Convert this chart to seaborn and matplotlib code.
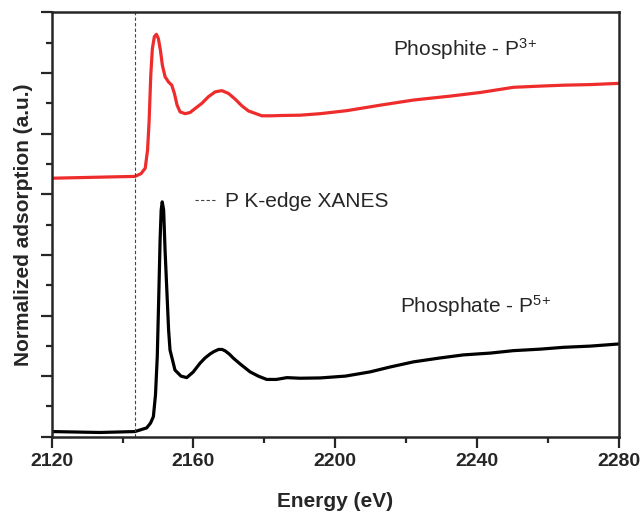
import matplotlib
matplotlib.use("Agg")
import matplotlib.pyplot as plt
from matplotlib.ticker import MultipleLocator
import seaborn as sns
import pandas as pd

# energy (eV) / normalized adsorption (a.u.)
phosphite_energy = [2120, 2139.3, 2143.5, 2145.2, 2146.4, 2147.06, 2147.49, 2147.97,
                    2148.42, 2148.98, 2149.55, 2150.11, 2150.68, 2151.24, 2152.01, 2152.94,
                    2153.90, 2154.63, 2155.40, 2156.24, 2157.66, 2159.07, 2160.48, 2162.37,
                    2164.24, 2166.13, 2168.02, 2169.89, 2171.78, 2173.67, 2175.54, 2177.43,
                    2179.32, 2182.15, 2184.5, 2190.1, 2195.8, 2203.3, 2212.7, 2222.1,
                    2232.5, 2241.0, 2250.3, 2257.9, 2264.4, 2272.0, 2280]
phosphite_abs = [8.53, 8.58, 8.59, 8.68, 8.86, 9.46, 10.39, 11.93,
                 12.81, 13.20, 13.28, 13.14, 12.76, 12.26, 11.88, 11.71,
                 11.60, 11.33, 10.94, 10.72, 10.66, 10.70, 10.83, 11.00,
                 11.22, 11.38, 11.42, 11.33, 11.14, 10.92, 10.75, 10.67,
                 10.59, 10.59, 10.60, 10.61, 10.66, 10.76, 10.94, 11.11,
                 11.24, 11.36, 11.53, 11.57, 11.60, 11.62, 11.66]

phosphate_energy = [2120, 2133.6, 2143.5, 2146.8, 2147.9, 2148.7, 2149.3, 2149.8,
                    2150.2, 2150.6, 2150.9, 2151.2, 2151.6, 2152.0, 2152.5, 2153.0,
                    2153.4, 2154.8, 2156.5, 2158.1, 2159.9, 2161.9, 2163.3, 2164.7,
                    2165.8, 2167.1, 2168.1, 2169.0, 2170.1, 2171.3, 2173.2, 2176.0,
                    2178.3, 2180.7, 2183.4, 2186.4, 2190.1, 2195.8, 2202.9, 2209.9,
                    2215.5, 2222.1, 2229.7, 2236.2, 2243.8, 2250.3, 2257.9, 2264.4,
                    2272.0, 2280]
phosphate_abs = [0.17, 0.14, 0.17, 0.29, 0.45, 0.66, 1.38, 2.64,
                 4.51, 6.49, 7.48, 7.75, 7.48, 6.16, 4.84, 3.52,
                 2.86, 2.20, 2.00, 1.95, 2.13, 2.43, 2.60, 2.73,
                 2.81, 2.88, 2.88, 2.83, 2.73, 2.59, 2.40, 2.14,
                 2.00, 1.89, 1.89, 1.95, 1.93, 1.94, 2.00, 2.14,
                 2.30, 2.47, 2.60, 2.70, 2.76, 2.84, 2.89, 2.95,
                 2.99, 3.06]

edge_energy = 2143.5
x_ticks = [2120, 2160, 2200, 2240, 2280]

sns.set_style("ticks")
plt.rcParams["font.family"] = ["Liberation Sans", "DejaVu Sans"]
plt.rcParams["mathtext.fontset"] = "custom"
plt.rcParams["mathtext.rm"] = "Liberation Sans"
plt.rcParams["mathtext.it"] = "Liberation Sans:italic"
plt.rcParams["mathtext.default"] = "regular"

phosphite = pd.DataFrame({"energy": phosphite_energy, "abs": phosphite_abs})
phosphate = pd.DataFrame({"energy": phosphate_energy, "abs": phosphate_abs})

fig = plt.figure(figsize=(6.42, 5.13), dpi=100)
ax = fig.add_axes([0.0805, 0.1487, 0.883, 0.827])

line_kw = dict(lw=2.3, solid_joinstyle="round", solid_capstyle="round")
sns.lineplot(x="energy", y="abs", data=phosphite, color="#ee2c2c", ax=ax, **line_kw)
sns.lineplot(x="energy", y="abs", data=phosphate, color="black", ax=ax, **line_kw)
ax.axvline(edge_energy, ls=(0, (3, 2)), color="#444444", lw=0.8, label="P K-edge XANES")

ax.text(2216.4, 12.56, r"Phosphite - P$^{3\!+}$", fontsize=15, va="baseline")
ax.text(2218.2, 4.09, r"Phosphate - P$^{5\!+}$", fontsize=15, va="baseline")

ax.legend(loc="center left", bbox_to_anchor=(0.253, 0.554), frameon=False,
          fontsize=15, handlelength=1.06, handletextpad=0.38, borderpad=0,
          borderaxespad=0)

ax.set_xlim(2120, 2280)
ax.set_ylim(0, 14)
ax.set_xticks(x_ticks)
ax.xaxis.set_minor_locator(MultipleLocator(20))
ax.yaxis.set_major_locator(MultipleLocator(2))
ax.yaxis.set_minor_locator(MultipleLocator(1))
ax.set_yticklabels([])

ax.set_xlabel("Energy (eV)", fontsize=15, fontweight="bold", labelpad=16)
ax.set_ylabel("Normalized adsorption (a.u.)", fontsize=15, fontweight="bold", labelpad=2)

for s in ax.spines.values():
    s.set_linewidth(1.8)
ax.tick_params(which="major", direction="out", length=8, width=1.6,
               labelsize=14, top=False, right=False)
ax.tick_params(which="minor", direction="out", length=4.5, width=1.6,
               top=False, right=False)
for lab in ax.get_xticklabels():
    lab.set_fontweight("bold")

fig.savefig("out.png", dpi=100)
